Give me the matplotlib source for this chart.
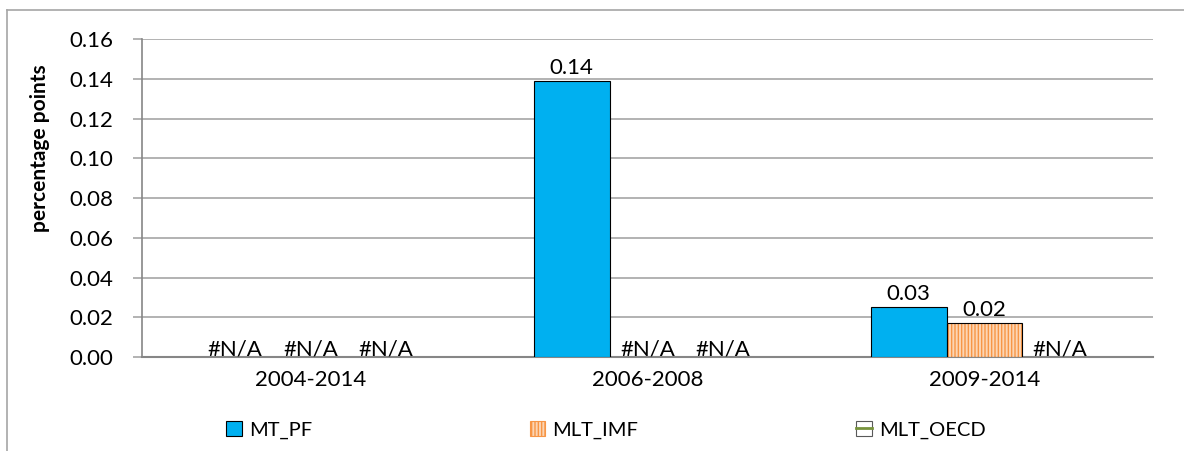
import matplotlib
matplotlib.use('Agg')
import matplotlib.pyplot as plt
from matplotlib.patches import Patch
from matplotlib.lines import Line2D
from matplotlib.legend_handler import HandlerTuple
import numpy as np

categories = ['2004-2014', '2006-2008', '2009-2014']
series = ['MT_PF', 'MLT_IMF', 'MLT_OECD']
# None = #N/A in the source sheet
mt_pf = [None, 0.139, 0.025]
mlt_imf = [None, None, 0.017]
mlt_oecd = [None, None, None]
yticks = [0.00, 0.02, 0.04, 0.06, 0.08, 0.10, 0.12, 0.14, 0.16]

plt.rcParams['font.family'] = ['Lato', 'DejaVu Sans']
plt.rcParams['hatch.linewidth'] = 1.0

fig = plt.figure(figsize=(11.84, 4.51), dpi=100)
ax = fig.add_axes([142 / 1184, 1 - 357 / 451, (1153 - 142) / 1184, (357 - 39) / 451])

x = np.arange(len(categories))
width = 0.225
offsets = [-width, 0, width]

blue = '#00B0F0'
peach = '#FCD5B4'
orange = '#F79646'
green = '#77933C'
fs = 16

data = [mt_pf, mlt_imf, mlt_oecd]
for k, vals in enumerate(data):
    for i, v in enumerate(vals):
        xpos = x[i] + offsets[k]
        if v is None:
            ax.text(xpos, 0.001, '#N/A', ha='center', va='baseline', fontsize=fs)
            continue
        if k == 0:
            ax.bar(xpos, v, width, color=blue, edgecolor='black', linewidth=0.8, zorder=3)
        elif k == 1:
            ax.bar(xpos, v, width, color=peach, edgecolor=orange, hatch='|||||',
                   linewidth=0, zorder=3)
            ax.bar(xpos, v, width, fill=False, edgecolor='black', linewidth=0.8, zorder=4)
        ax.text(xpos, v + 0.0035, '%.2f' % v, ha='center', va='baseline', fontsize=fs)

ax.set_xlim(-0.5, len(categories) - 0.5)
ax.set_ylim(0, 0.16)
ax.set_yticks(yticks)
ax.set_yticklabels(['%.2f' % t for t in yticks], fontsize=fs)
ax.set_xticks(x)
ax.set_xticklabels(categories, fontsize=fs)
ax.tick_params(axis='x', length=0, pad=9)
ax.tick_params(axis='y', length=6.5, width=1.2, color='#A6A6A6', pad=14)
ax.set_ylabel('percentage points', fontsize=15, fontweight='bold')
ax.yaxis.set_label_coords(-0.091, 0.657)

ax.grid(axis='y', color='#A6A6A6', linewidth=1.2, zorder=0)
ax.set_axisbelow(True)
for s in ['top', 'right']:
    ax.spines[s].set_visible(False)
ax.spines['left'].set_color('#868686')
ax.spines['left'].set_linewidth(1.2)
ax.spines['bottom'].set_color('#868686')
ax.spines['bottom'].set_linewidth(1.5)

handles = [
    Patch(facecolor=blue, edgecolor='black', linewidth=0.8),
    Patch(facecolor=peach, edgecolor=orange, hatch='|||||', linewidth=0.8),
    (Patch(facecolor='white', edgecolor='#595959', linewidth=0.8),
     Line2D([], [], color=green, linewidth=2)),
]
leg = fig.legend(handles, series, loc='center left',
                 bbox_to_anchor=(226 / 1184, 1 - 430 / 451),
                 ncol=3, frameon=False, fontsize=14.5, handlelength=0.79, handleheight=0.79,
                 handletextpad=0.35, columnspacing=10.8, borderpad=0, borderaxespad=0,
                 handler_map={tuple: HandlerTuple(ndivide=1, pad=0)})

# outer chart frame
fig.add_artist(Line2D([7 / 1184, 7 / 1184], [0, 1 - 10 / 451], color='#A6A6A6',
                      linewidth=1.2, transform=fig.transFigure))
fig.add_artist(Line2D([7 / 1184, 1], [1 - 10 / 451, 1 - 10 / 451], color='#A6A6A6',
                      linewidth=1.2, transform=fig.transFigure))

plt.savefig('out.png', dpi=100)
plt.close('all')
